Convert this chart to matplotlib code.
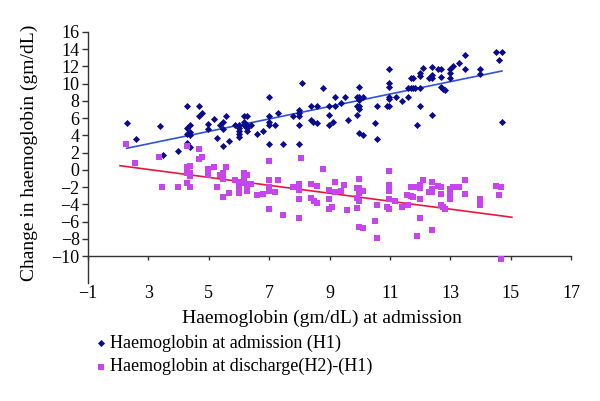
import numpy as np
import matplotlib
matplotlib.use("Agg")
import matplotlib.pyplot as plt

# Haemoglobin at admission (H1) - blue diamonds
h1_x = [2.28, 2.59, 3.39, 3.47, 3.99, 4.27, 4.67, 4.27, 4.38, 4.27, 4.38, 4.38, 4.27, 4.38,
        4.67, 4.78, 4.98, 4.98, 5.18, 5.28, 5.37, 5.48, 5.48, 5.58, 5.48, 5.68, 5.88,
        5.99, 5.99, 5.99, 5.99, 5.99, 6.18, 6.28, 6.18, 6.18, 6.28, 6.28, 6.39, 6.28,
        6.59, 6.79, 6.99, 6.99, 6.99, 6.99, 7.18, 7.28, 6.99, 7.47, 7.78,
        7.99, 7.99, 7.99, 7.99, 8.09, 7.99,
        8.39, 8.58, 8.39, 8.46, 8.58, 8.79, 8.99, 8.99, 9.11, 8.99, 9.19, 9.19, 9.39, 9.50,
        9.60, 9.90, 9.99, 9.90, 9.99, 10.10, 9.99, 9.90, 9.99, 9.99, 9.99, 10.10, 10.50,
        10.58, 10.58, 10.89, 10.98, 10.98, 10.98, 10.98, 10.98, 10.98, 11.20, 11.39, 11.60,
        11.60, 11.70, 11.78, 11.83, 11.70, 11.78, 12.00, 12.00, 11.91, 12.00, 12.00, 12.11,
        12.31, 12.39, 12.39, 12.39, 12.39, 12.59, 12.70, 12.70, 12.70, 12.77, 12.82, 12.99,
        12.99, 12.99, 13.10, 13.30, 13.50, 13.50, 13.98, 13.98, 14.51, 14.70, 14.60, 14.71]
h1_y = [5.47, 3.55, 5.09, 1.72, 2.22, 7.41, 7.41, 4.89, 5.20, 4.16, 4.39, 4.04, 3.08, 2.62,
        6.28, 6.63, 5.32, 4.74, 5.87, 3.70, 5.20, 5.59, 4.74, 6.28, 2.80, 3.38, 5.20,
        5.20, 4.82, 4.47, 4.16, 3.78, 6.28, 6.28, 5.59, 5.20, 5.20, 4.82, 5.20, 4.47,
        4.16, 4.47, 8.49, 6.28, 5.59, 5.20, 5.20, 6.63, 3.00, 3.00, 6.28,
        6.95, 6.63, 6.28, 5.20, 10.11, 3.00,
        7.41, 7.41, 5.79, 5.59, 5.47, 9.53, 7.41, 6.33, 5.59, 5.20, 8.49, 7.41, 7.72, 8.49,
        5.79, 6.33, 9.65, 8.49, 8.49, 8.49, 8.11, 7.41, 7.41, 7.10, 4.24, 4.08, 5.47,
        3.55, 7.41, 7.41, 7.41, 11.67, 10.05, 9.65, 8.49, 8.26, 8.49, 8.03, 8.49,
        9.53, 9.53, 9.53, 9.53, 10.63, 10.63, 9.53, 7.41, 5.20, 11.21, 10.89, 11.79,
        10.63, 10.63, 11.01, 11.97, 6.40, 11.67, 11.67, 10.81, 9.65, 9.42, 9.27, 11.67,
        11.28, 10.63, 12.05, 12.37, 13.33, 11.67, 11.67, 11.09, 13.71, 13.71, 12.75, 5.59]

# Haemoglobin at discharge (H2) - (H1) - magenta squares
dh_x = [2.26, 2.57, 3.36, 4.27, 4.67, 4.78, 4.67, 6.99, 8.07, 4.27, 4.38, 4.97, 5.17, 5.58,
        4.27, 4.38, 4.38, 4.27, 4.38, 3.46, 3.98, 4.96, 5.37, 5.47, 5.47, 5.26, 5.47, 5.67,
        5.88, 5.99, 5.99, 5.99, 5.99, 5.99, 6.18, 6.28, 6.18, 6.18, 6.28, 6.28, 6.28, 6.39,
        6.59, 6.79, 6.99, 6.99, 6.99, 7.18, 7.28, 6.99, 7.47, 7.78, 7.99, 7.99, 7.99, 7.99,
        8.39, 8.58, 8.39, 8.49, 8.58, 8.77, 8.99, 8.99, 8.99, 9.09, 9.18, 9.18, 9.38, 9.49,
        9.59, 9.90, 9.99, 10.10, 9.99, 9.90, 9.99, 9.99, 9.90, 9.99, 10.10, 10.50, 10.58,
        10.58, 10.98, 10.98, 10.98, 10.98, 10.98, 10.89, 10.98, 11.18, 11.39, 11.59, 11.70,
        11.78, 11.83, 11.58, 11.70, 11.78, 12.00, 12.00, 12.00, 12.00, 11.89, 12.11, 12.31,
        12.39, 12.39, 12.39, 12.39, 12.59, 12.70, 12.70, 12.70, 12.77, 12.82, 12.99, 12.99,
        12.99, 13.10, 13.30, 13.50, 13.50, 13.98, 13.98, 14.51, 14.69, 14.60, 14.69]
dh_y = [3.00, 0.81, 1.53, 2.80, 2.38, 1.53, 1.26, 0.99, 1.43, 0.36, 0.45, 0.06, 0.29, 0.29,
        -0.40, -0.40, -0.72, -1.49, -2.03, -1.99, -2.03, -0.56, -0.56, -0.37, -1.10, -2.03,
        -3.12, -2.72, -1.18, -1.38, -1.76, -2.14, -2.54, -2.72, -0.40, -0.56, -1.10, -1.49,
        -1.64, -2.03, -2.42, -1.64, -2.96, -2.80, -1.18, -2.03, -2.42, -2.54, -1.18, -4.58,
        -5.24, -2.03, -1.64, -2.34, -3.38, -5.62,
        -1.68, -1.88, -3.30, -3.58, -3.81, 0.06, -2.34, -3.38, -4.58, -4.35, -1.45, -2.54,
        -2.42, -1.72, -4.66, -2.14, -2.14, -2.42, -1.10, -3.24, -3.58, -2.65, -4.43, -6.60,
        -6.79, -5.94, -4.08, -7.95, -0.10, -1.76, -2.14, -2.42, -3.42, -4.35, -4.55, -3.58,
        -4.28, -4.08, -2.03, -2.03, -2.03, -2.92, -3.04, -3.12, -1.76, -2.07, -3.38, -5.62,
        -7.68, -1.18, -2.57, -2.57, -1.45, -2.26, -6.98, -1.88, -1.96, -2.80, -4.12, -4.35,
        -4.58, -2.26, -2.65, -3.38, -2.03, -1.96, -1.18, -2.80, -3.38, -4.08, -1.84, -2.03,
        -2.96, -10.35]

# linear trend lines as drawn in the chart: [slope, intercept] and x span
h1_trend_coef = [0.7216, 0.855]
h1_trend_span = [2.28, 14.71]
dh_trend_coef = [-0.4607, 1.429]
dh_trend_span = [2.06, 15.04]

xtick_vals = [1, 3, 5, 7, 9, 11, 13, 15, 17]
xtick_text = ["\u22121", "3", "5", "7", "9", "11", "13", "15", "17"]
ytick_vals = list(range(-10, 17, 2))

plt.rcParams['font.family'] = ['Liberation Serif', 'DejaVu Serif']

fig = plt.figure(figsize=(6, 4.01), dpi=100)
ax = fig.add_axes([0.1467, 0.2943, 0.805, 0.626])

ax.scatter(h1_x, h1_y, marker='D', s=13, color='#0a0a8c', linewidths=0,
           label='Haemoglobin at admission (H1)', zorder=3)
ax.scatter(dh_x, dh_y, marker='s', s=15, color='#c645ee', linewidths=0,
           label='Haemoglobin at discharge(H2)-(H1)', zorder=3)

tx = np.array(h1_trend_span)
ax.plot(tx, np.polyval(h1_trend_coef, tx), color='#3050e0', lw=1.2, zorder=2)
tx = np.array(dh_trend_span)
ax.plot(tx, np.polyval(dh_trend_coef, tx), color='#e8173a', lw=1.2, zorder=2)

ax.set_xlim(1, 17)
ax.set_ylim(-13.13, 16)
ax.set_xticks(xtick_vals)
ax.set_xticklabels(xtick_text)
ax.set_yticks(ytick_vals)

ax.spines['top'].set_visible(False)
ax.spines['right'].set_visible(False)
ax.spines['bottom'].set_position(('data', -10))
for s in ['left', 'bottom']:
    ax.spines[s].set_color('#333333')
    ax.spines[s].set_linewidth(1)

ax.tick_params(axis='y', direction='out', length=4, width=1, color='#333333',
               labelsize=13, pad=2)
ax.tick_params(axis='x', direction='out', length=3, width=1, color='#333333',
               labelsize=13, pad=18)

ax.set_ylabel('Change in haemoglobin (gm/dL)', fontsize=14)
ax.yaxis.set_label_coords(-0.104, 0.52)
fig.text(0.537, 0.207, 'Haemoglobin (gm/dL) at admission', fontsize=14,
         ha='center', va='center')

fig.legend(loc='upper left', bbox_to_anchor=(0.163, 0.166), frameon=False,
           fontsize=13, handlelength=0.4, handletextpad=0.25, labelspacing=0.35,
           borderaxespad=0, borderpad=0)

fig.savefig('out.png', dpi=100)
